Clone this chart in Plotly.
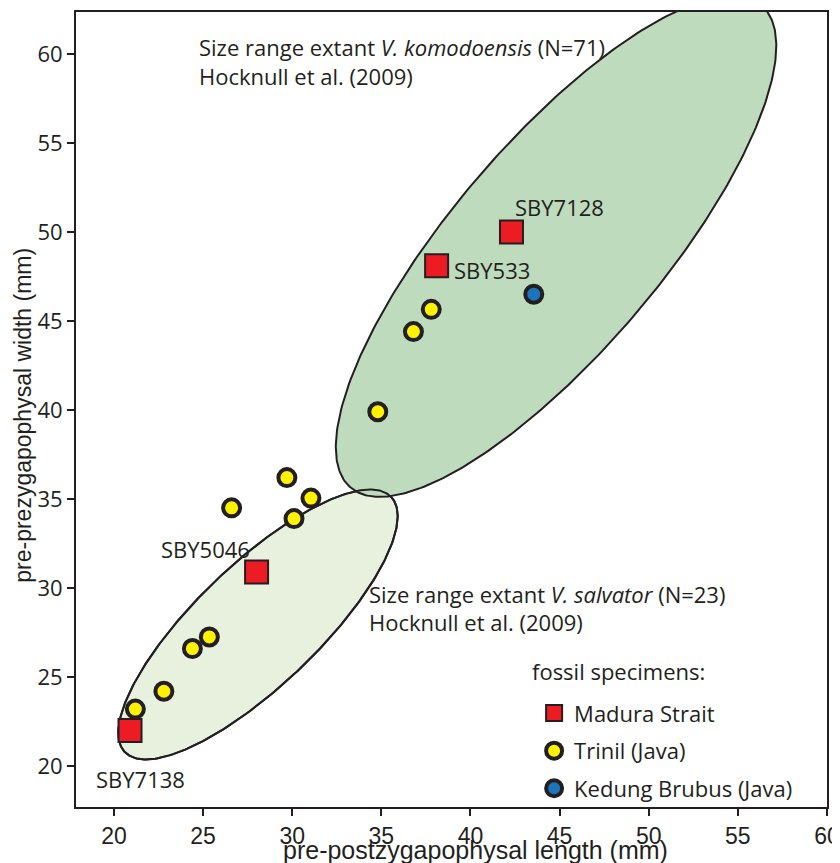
import numpy as np
import plotly.graph_objects as go

# ---- data ----
madura_names = ["SBY7138", "SBY5046", "SBY533", "SBY7128"]
madura_x = [20.9, 28.0, 38.1, 42.3]
madura_y = [22.0, 30.9, 48.1, 50.0]

trinil_x = [21.2, 22.8, 24.4, 25.35, 26.6, 29.7, 30.1, 31.05, 34.8, 36.8, 37.8]
trinil_y = [23.2, 24.2, 26.6, 27.25, 34.5, 36.2, 33.9, 35.05, 39.9, 44.4, 45.65]

kedung_x = [43.55]
kedung_y = [46.5]

# size-range ellipses: centre x, centre y, semi-major, semi-minor, angle (deg)
komodo_ellipse = [44.80, 49.18, 17.78, 5.85, 49.6]
salvator_ellipse = [28.08, 27.95, 10.35, 3.42, 43.8]

x_ticks = [20, 25, 30, 35, 40, 45, 50, 55, 60]
y_ticks = [20, 25, 30, 35, 40, 45, 50, 55, 60]


def ellipse(cx, cy, a, b, ang):
    t = np.linspace(0, 2 * np.pi, 361)
    th = np.radians(ang)
    return (cx + a * np.cos(t) * np.cos(th) - b * np.sin(t) * np.sin(th),
            cy + a * np.cos(t) * np.sin(th) + b * np.sin(t) * np.cos(th))


INK = "#231F20"
FONT = "Open Sans"
tf = dict(family=FONT, size=22, color=INK)

fig = go.Figure()
sx, sy = ellipse(*salvator_ellipse)
kx, ky = ellipse(*komodo_ellipse)
fig.add_trace(go.Scatter(x=sx, y=sy, fill="toself", fillcolor="#E7F1DE", mode="lines",
                         line=dict(color=INK, width=2), showlegend=False, hoverinfo="skip"))
fig.add_trace(go.Scatter(x=kx, y=ky, fill="toself", fillcolor="#BFDBBE", mode="lines",
                         line=dict(color=INK, width=2), showlegend=False, hoverinfo="skip"))
fig.add_trace(go.Scatter(x=sx, y=sy, mode="lines", line=dict(color=INK, width=2),
                         showlegend=False, hoverinfo="skip"))

fig.add_trace(go.Scatter(x=madura_x, y=madura_y, mode="markers", name="Madura Strait",
                         legendgroup="a",
                         marker=dict(symbol="square", size=23, color="#ED1C24",
                                     line=dict(color=INK, width=2))))
fig.add_trace(go.Scatter(x=trinil_x, y=trinil_y, mode="markers", name="Trinil (Java)",
                         legendgroup="b",
                         marker=dict(symbol="circle", size=17, color="#FFF200",
                                     line=dict(color=INK, width=4))))
fig.add_trace(go.Scatter(x=kedung_x, y=kedung_y, mode="markers", name="Kedung Brubus (Java)",
                         legendgroup="c",
                         marker=dict(symbol="circle", size=17, color="#1C75BC",
                                     line=dict(color=INK, width=4))))

ann = []
ann.append(dict(x=24.655, y=60.38, xref="x", yref="y", xanchor="left", yanchor="middle",
                text="Size range extant <i>V. komodoensis</i> (N=71)", showarrow=False, font=tf))
ann.append(dict(x=24.655, y=58.75, xref="x", yref="y", xanchor="left", yanchor="middle",
                text="Hocknull et al. (2009)", showarrow=False, font=tf))
ann.append(dict(x=34.19, y=29.65, xref="x", yref="y", xanchor="left", yanchor="middle",
                text="Size range extant <i>V. salvator</i> (N=23)", showarrow=False, font=tf))
ann.append(dict(x=34.19, y=28.07, xref="x", yref="y", xanchor="left", yanchor="middle",
                text="Hocknull et al. (2009)", showarrow=False, font=tf))
ann.append(dict(x=43.33, y=25.32, xref="x", yref="y", xanchor="left", yanchor="middle",
                text="fossil specimens:", showarrow=False, font=tf))
offs = {"SBY7138": ("center", 10, -49), "SBY5046": ("right", -5, 23),
        "SBY533": ("left", 15, -4), "SBY7128": ("left", 2, 25)}
for n, x, y in zip(madura_names, madura_x, madura_y):
    xa, dx, dy = offs[n]
    ann.append(dict(x=x, y=y, xref="x", yref="y", xanchor=xa, yanchor="middle", xshift=dx,
                    yshift=dy, text=n, showarrow=False, font=tf))
ann.append(dict(x=40.30, y=-0.054, xref="x", yref="paper", xanchor="center", yanchor="middle",
                text="pre-postzygapophysal length (mm)", showarrow=False,
                font=dict(family="Liberation Sans", size=25, color=INK)))
ann.append(dict(x=-0.0706, y=39.73, xref="paper", yref="y", xanchor="center", yanchor="middle",
                textangle=-90, text="pre-prezygapophysal width (mm)", showarrow=False,
                font=dict(family="Liberation Sans", size=23, color=INK)))

fig.update_layout(
    width=840, height=863, margin=dict(l=68, r=21, t=2, b=64),
    plot_bgcolor="white", paper_bgcolor="white",
    annotations=ann,
    legend=dict(x=0.610, y=0.1443, xanchor="left", yanchor="top", bgcolor="rgba(0,0,0,0)",
                font=tf, tracegroupgap=6, traceorder="grouped"),
    xaxis=dict(range=[17.87, 60], tickvals=x_ticks, showgrid=False, zeroline=False,
               showline=True, linecolor=INK, linewidth=2, mirror=True, ticks="outside",
               ticklen=7, tickwidth=2, tickcolor=INK,
               tickfont=dict(family="Liberation Sans", size=23, color=INK)),
    yaxis=dict(range=[17.7, 62.35], tickvals=y_ticks, showgrid=False, zeroline=False,
               showline=True, linecolor=INK, linewidth=2, mirror=True, ticks="outside",
               ticklen=7, tickwidth=2, tickcolor=INK,
               tickfont=dict(family=FONT, size=22, color=INK)),
)
fig.write_html("out.html")
